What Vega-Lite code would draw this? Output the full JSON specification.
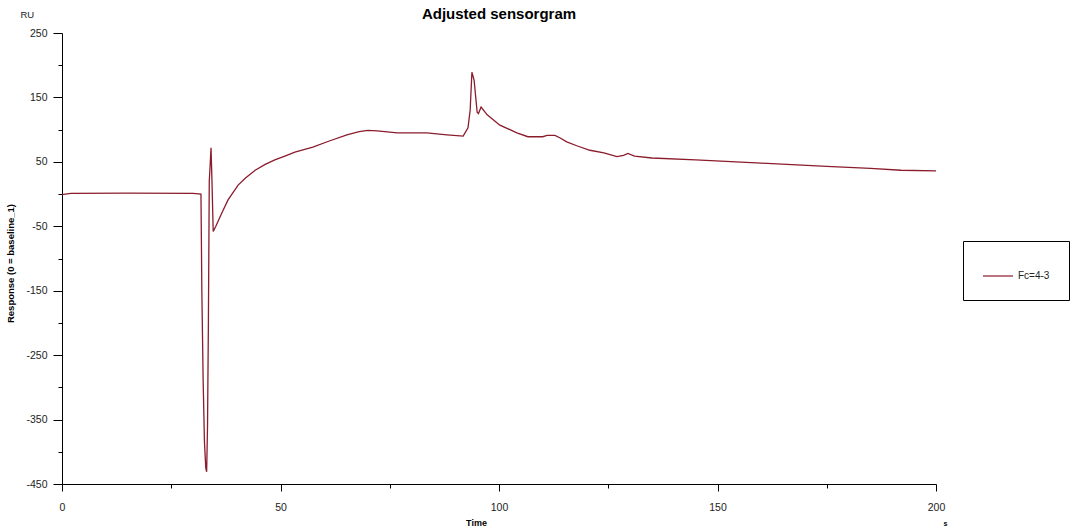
{
  "$schema": "https://vega.github.io/schema/vega-lite/v6.json",
  "autosize": "none",
  "width": 874,
  "height": 451,
  "padding": {"left": 62, "top": 33, "right": 136, "bottom": 47},
  "background": "white",
  "config": {
    "view": {"stroke": null},
    "font": "Liberation Sans",
    "axis": {"grid": false, "domainColor": "black", "tickColor": "black", "labelColor": "#222", "labelFont": "Liberation Sans", "titleFont": "Liberation Sans"}
  },
  "title": {"text": "Adjusted sensorgram", "fontSize": 15, "fontWeight": "bold", "font": "Liberation Sans", "color": "black", "anchor": "middle", "offset": -13},
  "data": {"values": [
    {"t": 0, "r": -1, "s": "Fc=4-3"},
    {"t": 2, "r": 1, "s": "Fc=4-3"},
    {"t": 15, "r": 1.5, "s": "Fc=4-3"},
    {"t": 30, "r": 1, "s": "Fc=4-3"},
    {"t": 31.8, "r": 0, "s": "Fc=4-3"},
    {"t": 32.0, "r": -150, "s": "Fc=4-3"},
    {"t": 32.3, "r": -290, "s": "Fc=4-3"},
    {"t": 32.6, "r": -385, "s": "Fc=4-3"},
    {"t": 32.9, "r": -425, "s": "Fc=4-3"},
    {"t": 33.1, "r": -431, "s": "Fc=4-3"},
    {"t": 33.3, "r": -360, "s": "Fc=4-3"},
    {"t": 33.5, "r": -200, "s": "Fc=4-3"},
    {"t": 33.7, "r": 20, "s": "Fc=4-3"},
    {"t": 33.9, "r": 45, "s": "Fc=4-3"},
    {"t": 34.1, "r": 72, "s": "Fc=4-3"},
    {"t": 34.3, "r": 25, "s": "Fc=4-3"},
    {"t": 34.6, "r": -58, "s": "Fc=4-3"},
    {"t": 35.2, "r": -50, "s": "Fc=4-3"},
    {"t": 36.6, "r": -29, "s": "Fc=4-3"},
    {"t": 38.0, "r": -9, "s": "Fc=4-3"},
    {"t": 40.3, "r": 14, "s": "Fc=4-3"},
    {"t": 42, "r": 25, "s": "Fc=4-3"},
    {"t": 44.2, "r": 37, "s": "Fc=4-3"},
    {"t": 46.5, "r": 46, "s": "Fc=4-3"},
    {"t": 48.7, "r": 53, "s": "Fc=4-3"},
    {"t": 51, "r": 59, "s": "Fc=4-3"},
    {"t": 53.3, "r": 65, "s": "Fc=4-3"},
    {"t": 57.4, "r": 73, "s": "Fc=4-3"},
    {"t": 61, "r": 82, "s": "Fc=4-3"},
    {"t": 65.2, "r": 92, "s": "Fc=4-3"},
    {"t": 68, "r": 97, "s": "Fc=4-3"},
    {"t": 70, "r": 99, "s": "Fc=4-3"},
    {"t": 72.1, "r": 98, "s": "Fc=4-3"},
    {"t": 75, "r": 96, "s": "Fc=4-3"},
    {"t": 76.7, "r": 95, "s": "Fc=4-3"},
    {"t": 83.5, "r": 95, "s": "Fc=4-3"},
    {"t": 88.1, "r": 92, "s": "Fc=4-3"},
    {"t": 91.8, "r": 90, "s": "Fc=4-3"},
    {"t": 92.9, "r": 103, "s": "Fc=4-3"},
    {"t": 93.4, "r": 130, "s": "Fc=4-3"},
    {"t": 93.8, "r": 189, "s": "Fc=4-3"},
    {"t": 94.3, "r": 177, "s": "Fc=4-3"},
    {"t": 95.0, "r": 127, "s": "Fc=4-3"},
    {"t": 95.3, "r": 125, "s": "Fc=4-3"},
    {"t": 95.9, "r": 135, "s": "Fc=4-3"},
    {"t": 97.3, "r": 123, "s": "Fc=4-3"},
    {"t": 100.2, "r": 107, "s": "Fc=4-3"},
    {"t": 104.1, "r": 95, "s": "Fc=4-3"},
    {"t": 106.6, "r": 89, "s": "Fc=4-3"},
    {"t": 110, "r": 89, "s": "Fc=4-3"},
    {"t": 111, "r": 91, "s": "Fc=4-3"},
    {"t": 112.8, "r": 91, "s": "Fc=4-3"},
    {"t": 114, "r": 87, "s": "Fc=4-3"},
    {"t": 115.5, "r": 81, "s": "Fc=4-3"},
    {"t": 117.8, "r": 75, "s": "Fc=4-3"},
    {"t": 120.8, "r": 68, "s": "Fc=4-3"},
    {"t": 124, "r": 64, "s": "Fc=4-3"},
    {"t": 127, "r": 58, "s": "Fc=4-3"},
    {"t": 128.5, "r": 60, "s": "Fc=4-3"},
    {"t": 129.5, "r": 63, "s": "Fc=4-3"},
    {"t": 131, "r": 59, "s": "Fc=4-3"},
    {"t": 135, "r": 56, "s": "Fc=4-3"},
    {"t": 145, "r": 53, "s": "Fc=4-3"},
    {"t": 160, "r": 48, "s": "Fc=4-3"},
    {"t": 175, "r": 43, "s": "Fc=4-3"},
    {"t": 185, "r": 40, "s": "Fc=4-3"},
    {"t": 192, "r": 37, "s": "Fc=4-3"},
    {"t": 200, "r": 36, "s": "Fc=4-3"}
  ]},
  "layer": [
    {
      "mark": {"type": "line", "strokeWidth": 1.3, "clip": true},
      "encoding": {
        "x": {"field": "t", "type": "quantitative", "scale": {"domain": [0, 200], "nice": false, "zero": false},
          "axis": {"values": [0, 25, 50, 75, 100, 125, 150, 175, 200], "tickSize": {"condition": {"test": "datum.value % 50 == 0", "value": 7}, "value": 4}, "labelExpr": "datum.value % 50 == 0 ? toString(datum.value) : ''", "labelPadding": 11, "labelFontSize": 10.5, "labelFlush": false, "title": "Time", "titleFontSize": 9, "titleFontWeight": "bold", "titleX": 414, "titleY": 38, "titleAlign": "center", "titleBaseline": "middle"}},
        "y": {"field": "r", "type": "quantitative", "scale": {"domain": [-450, 250], "nice": false, "zero": false},
          "axis": {"values": [250, 200, 150, 100, 50, 0, -50, -100, -150, -200, -250, -300, -350, -400, -450], "tickSize": {"condition": {"test": "(datum.value + 450) % 100 == 0", "value": 9}, "value": 4}, "labelExpr": "(datum.value + 450) % 100 == 0 ? toString(datum.value) : ''", "labelPadding": 6, "labelFontSize": 10.5, "labelFlush": false, "title": "Response (0 = baseline_1)", "titleFontSize": 9.5, "titleFontWeight": "bold", "titleX": -52, "titleY": 230, "titleAngle": -90, "titleAlign": "center", "titleBaseline": "middle"}},
        "color": {"field": "s", "type": "nominal", "scale": {"range": ["#8a1c2c"]},
          "legend": {"title": null, "orient": "none", "legendX": 901, "legendY": 208, "strokeColor": "black", "padding": 19, "symbolType": "stroke", "symbolSize": 900, "symbolStrokeWidth": 1.2, "labelFontSize": 10, "labelColor": "#222", "labelOffset": 4}}
      }
    },
    {
      "mark": {"type": "line", "opacity": 0},
      "encoding": {
        "x": {"field": "t", "type": "quantitative", "scale": {"domain": [0, 200], "nice": false, "zero": false},
          "axis": {"orient": "top", "values": [], "ticks": false, "labels": false, "domain": false, "title": "RU", "titleFontSize": 9.5, "titleFontWeight": "normal", "titleColor": "#222", "titleX": -42, "titleY": -19, "titleAlign": "left", "titleBaseline": "middle"}},
        "y": {"field": "r", "type": "quantitative", "scale": {"domain": [-450, 250], "nice": false, "zero": false},
          "axis": {"orient": "right", "values": [], "ticks": false, "labels": false, "domain": false, "title": "s", "titleFontSize": 7, "titleFontWeight": "bold", "titleAngle": 0, "titleX": 9, "titleY": 490, "titleAlign": "center", "titleBaseline": "middle"}}
      }
    }
  ],
  "resolve": {"axis": {"x": "independent", "y": "independent"}}
}
